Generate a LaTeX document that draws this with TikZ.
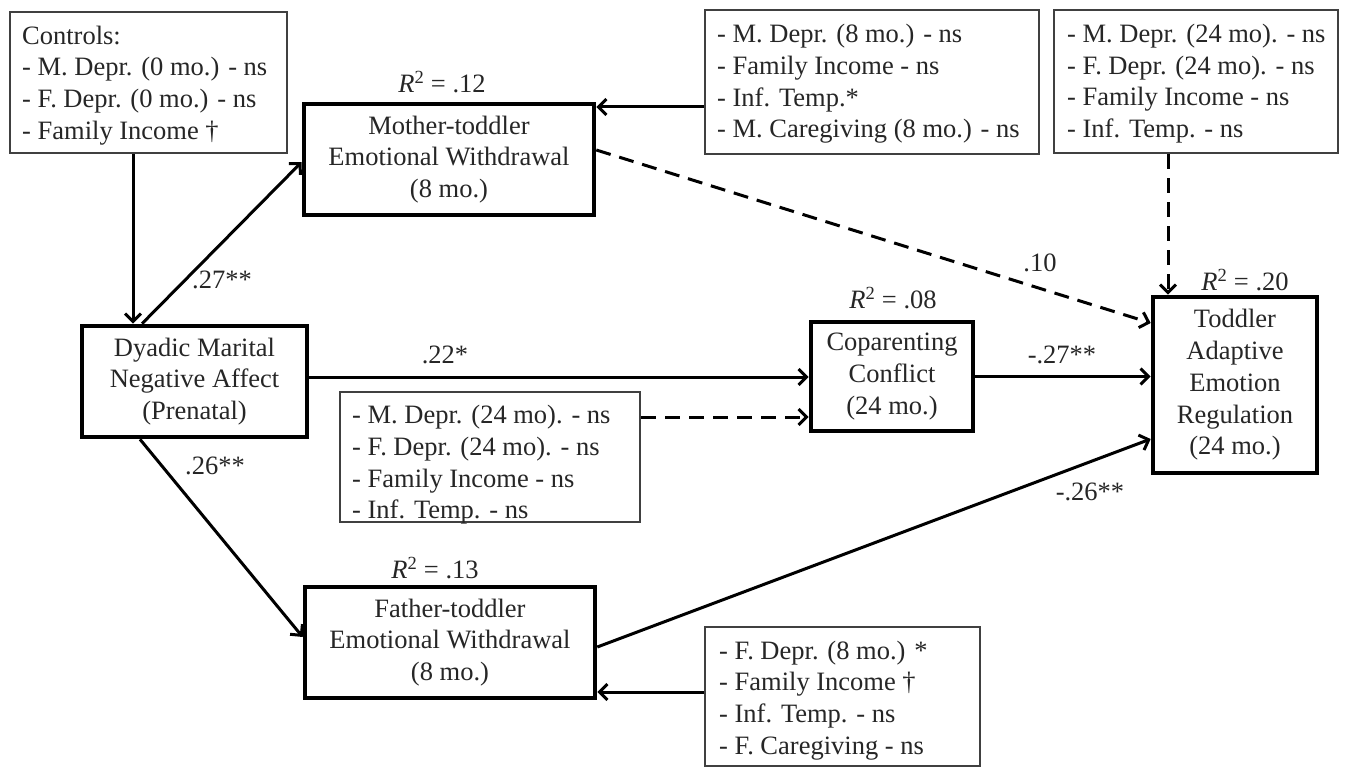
\documentclass[tikz,border=0pt]{standalone}
\usepackage{fontspec}
\setmainfont{Liberation Serif}
\usetikzlibrary{arrows.meta,calc}
\begin{document}
\begin{tikzpicture}[x=1pt,y=-1pt,
  every node/.style={font=\fontsize{26.5}{31.7}\selectfont, text=black!85},
  thickbox/.style={draw=black, line width=4.6pt, align=center, inner sep=0pt, fill=white},
  thinbox/.style={draw=black!75, line width=2pt, inner sep=0pt, fill=white},
  covtext/.style={anchor=west, align=left, inner sep=0pt},
  lbl/.style={inner sep=0pt},
  arr/.style={line width=3pt, -{Straight Barb[length=8pt,width=16pt]}},
  darr/.style={arr, dash pattern=on 15pt off 9pt}]
\useasboundingbox (0,0) rectangle (1345,768);
% covariate boxes
\node[thinbox, minimum width=277pt, minimum height=141pt] (ctrl) at (148.5,82.5) {};
\node[covtext] (ctrlT) at ([xshift=13pt,yshift=-3pt]ctrl.west) {Controls:\\- M. Depr. (0 mo.) - ns\\- F. Depr. (0 mo.) - ns\\- Family Income †};
\node[thinbox, minimum width=334pt, minimum height=144pt] (topmid) at (872,82) {};
\node[covtext] (topmidT) at ([xshift=13pt,yshift=-2pt]topmid.west) {- M. Depr. (8 mo.) - ns\\- Family Income - ns\\- Inf. Temp.*\\- M. Caregiving (8 mo.) - ns};
\node[thinbox, minimum width=284pt, minimum height=143pt] (topright) at (1196,81.5) {};
\node[covtext] (toprightT) at ([xshift=14pt,yshift=-2pt]topright.west) {- M. Depr. (24 mo). - ns\\- F. Depr. (24 mo). - ns\\- Family Income - ns\\- Inf. Temp. - ns};
\node[thinbox, minimum width=300pt, minimum height=130pt] (mid) at (490,457) {};
\node[covtext] (midT) at ([xshift=13pt,yshift=-8pt]mid.west) {- M. Depr. (24 mo). - ns\\- F. Depr. (24 mo). - ns\\- Family Income - ns\\- Inf. Temp. - ns};
\node[thinbox, minimum width=275pt, minimum height=139pt] (br) at (842.5,696.5) {};
\node[covtext] (brT) at ([xshift=15pt,yshift=-4pt]br.west) {- F. Depr. (8 mo.) *\\- Family Income †\\- Inf. Temp. - ns\\- F. Caregiving - ns};
% main boxes
\node[thickbox, minimum width=290pt, minimum height=111pt] (mt) at (449,159.5) {Mother-toddler\\Emotional Withdrawal\\(8 mo.)};
\node[thickbox, minimum width=225pt, minimum height=111pt] (dy) at (194.5,381.5) {Dyadic Marital\\Negative Affect\\(Prenatal)};
\node[thickbox, minimum width=162pt, minimum height=109pt] (cop) at (892,376.5) {Coparenting\\Conflict\\(24 mo.)};
\node[thickbox, minimum width=164pt, minimum height=176pt] (tod) at (1235,385) {Toddler\\Adaptive\\Emotion\\Regulation\\(24 mo.)};
\node[thickbox, minimum width=290pt, minimum height=111pt] (ft) at (450,642.5) {Father-toddler\\Emotional Withdrawal\\(8 mo.)};
% R squared
\node[lbl] (r1) at (442,82) {\textit{R}\textsuperscript{2} = .12};
\node[lbl] (r2) at (893,298) {\textit{R}\textsuperscript{2} = .08};
\node[lbl] (r3) at (435,568) {\textit{R}\textsuperscript{2} = .13};
\node[lbl] (r4) at (1245,280) {\textit{R}\textsuperscript{2} = .20};
% connectors
\draw[arr] ([xshift=-15.5pt]ctrl.south) -- ([xshift=-15.5pt]ctrl.south |- dy.north);
\draw[arr] ([xshift=-52.5pt]dy.north) -- ([yshift=-2.5pt]mt.west);
\draw[arr] ([xshift=-54.5pt]dy.south) -- ([yshift=5.5pt]ft.west);
\draw[arr] ([yshift=4.5pt]dy.east) -- ([yshift=4.5pt]dy.east -| cop.west);
\draw[darr] ([yshift=40pt]mid.east) -- ([yshift=40pt]mid.east -| cop.west);
\draw[arr] (cop.east) -- (cop.east -| tod.west);
\draw[darr] ([yshift=9.5pt]mt.east) -- ([yshift=62pt]tod.west);
\draw[darr] ([xshift=-28pt]topright.south) -- ([xshift=-28pt]topright.south |- tod.north);
\draw[arr] ([yshift=-4.5pt]ft.east) -- ([yshift=-54pt]tod.west);
\draw[arr] ([yshift=-25pt]topmid.west) -- ([yshift=-25pt]topmid.west -| mt.east);
\draw[arr] ([yshift=4.5pt]br.west) -- ([yshift=4.5pt]br.west -| ft.east);
% path labels
\node[lbl] (l27) at (222,280) {.27**};
\node[lbl] (l22) at (445,355) {.22*};
\node[lbl] (l26) at (215,466) {.26**};
\node[lbl] (l10) at (1040,263) {.10};
\node[lbl] (lm27) at (1062,355) {-.27**};
\node[lbl] (lm26) at (1090,492) {-.26**};
\end{tikzpicture}
\end{document}
